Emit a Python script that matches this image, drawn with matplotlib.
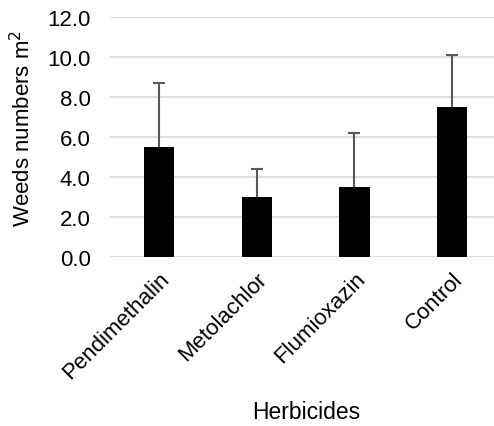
import matplotlib
matplotlib.use("Agg")
import matplotlib.pyplot as plt

categories = ["Pendimethalin", "Metolachlor", "Flumioxazin", "Control"]
means = [5.5, 3.0, 3.5, 7.5]
errors = [3.2, 1.4, 2.7, 2.6]
yticks = [0.0, 2.0, 4.0, 6.0, 8.0, 10.0, 12.0]

plt.rcParams['font.family'] = ['Liberation Sans', 'DejaVu Sans']

fig = plt.figure(figsize=(4.94, 4.27), dpi=100)
W, H = 494, 427
ax = fig.add_axes([110.2 / W, (H - 258) / H, 390.8 / W, 240 / H])

x = list(range(len(categories)))
ax.bar(x, means, width=0.31, color='black', zorder=3)
ax.errorbar(x, means, yerr=[[0] * len(errors), errors], fmt='none',
            ecolor='#595959', elinewidth=1.5, capsize=0, zorder=2.5)
tops = [m + e for m, e in zip(means, errors)]
ax.plot(x, tops, linestyle='none', marker='_', markersize=8.6,
        markeredgewidth=1.5, color='#595959', zorder=2.5)

ax.set_xlim(-0.5, 3.5)
ax.set_ylim(0, 12)
ax.set_yticks(yticks)
ax.set_yticklabels([f"{v:.1f}" for v in yticks], fontsize=16)
ax.yaxis.grid(True, color='#d9d9d9', linewidth=1.2, zorder=0)
ax.set_axisbelow(True)
ax.tick_params(axis='both', length=0)
ax.tick_params(axis='y', pad=14)
ax.set_xticks(x)
ax.set_xticklabels(categories, rotation=45, ha='right', rotation_mode='anchor', fontsize=16)
ax.tick_params(axis='x', pad=8)
for s in ax.spines.values():
    s.set_visible(False)

fig.text(23 / W, 1 - 128 / H, "Weeds numbers m$^2$", rotation=90,
         ha='center', va='center', fontsize=16)
fig.text(306 / W, 1 - 413 / H, "Herbicides", ha='center', va='center', fontsize=16.5)

fig.savefig("out.png", dpi=100, facecolor='white')
